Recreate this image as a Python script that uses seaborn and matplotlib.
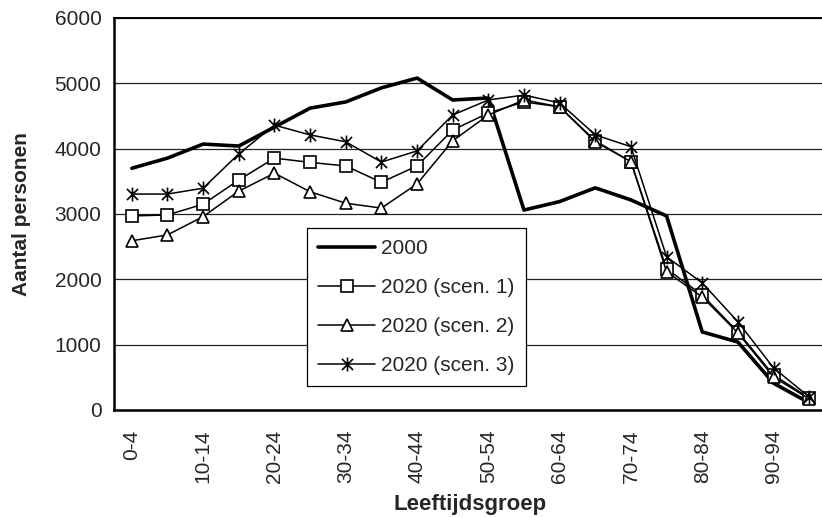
import matplotlib
matplotlib.use("Agg")
import matplotlib.pyplot as plt
from matplotlib.path import Path
from matplotlib.ticker import FixedLocator
import numpy as np
import pandas as pd
import seaborn as sns

# Age groups (5-year bands)
age_groups = ["0-4", "5-9", "10-14", "15-19", "20-24", "25-29", "30-34", "35-39",
              "40-44", "45-49", "50-54", "55-59", "60-64", "65-69", "70-74",
              "75-79", "80-84", "85-89", "90-94", "95-99"]

pop_2000 = [3700, 3855, 4070, 4040, 4330, 4620, 4715, 4930, 5080, 4745,
            4775, 3060, 3190, 3400, 3215, 2970, 1195, 1040, 410, 110]
pop_2020_s1 = [2970, 2985, 3150, 3520, 3855, 3790, 3735, 3485, 3735, 4285,
               4545, 4715, 4640, 4120, 3800, 2160, 1760, 1195, 535, 185]
pop_2020_s2 = [2590, 2680, 2960, 3350, 3625, 3340, 3165, 3090, 3460, 4120,
               4515, 4745, 4640, 4105, 3800, 2115, 1730, 1180, 505, 170]
pop_2020_s3 = [3305, 3305, 3395, 3920, 4360, 4210, 4105, 3795, 3965, 4515,
               4745, 4820, 4700, 4210, 4030, 2345, 1945, 1350, 645, 200]

series_names = ["2000", "2020 (scen. 1)", "2020 (scen. 2)", "2020 (scen. 3)"]
y_ticks = [0, 1000, 2000, 3000, 4000, 5000, 6000]

sns.set_style("white")
plt.rcParams["font.family"] = ["Liberation Sans", "DejaVu Sans"]

# asterisk marker: vertical bar plus an X
asterisk = Path(
    [(0, -1), (0, 1), (-0.8, -0.8), (0.8, 0.8), (-0.8, 0.8), (0.8, -0.8)],
    [Path.MOVETO, Path.LINETO, Path.MOVETO, Path.LINETO, Path.MOVETO, Path.LINETO],
)

fig = plt.figure(figsize=(8.22, 5.18), dpi=100)
ax = fig.add_axes([0.1387, 0.2085, 0.8674, 0.7568])

styles = [
    dict(lw=2.6, marker=None),
    dict(lw=1.1, marker="s", ms=9),
    dict(lw=1.1, marker="^", ms=9),
    dict(lw=1.1, marker=asterisk, ms=10),
]
all_values = [pop_2000, pop_2020_s1, pop_2020_s2, pop_2020_s3]

for name, vals, st in zip(series_names, all_values, styles):
    df = pd.DataFrame({"group": age_groups, "value": vals})
    kw = dict(color="black", lw=st["lw"], label=name, zorder=3)
    if st["marker"] is not None:
        kw.update(marker=st["marker"], markersize=st["ms"],
                  markerfacecolor="white", markeredgecolor="black",
                  markeredgewidth=1.2)
    sns.lineplot(data=df, x="group", y="value", ax=ax, sort=False, **kw)

ax.set_xlim(-0.5, len(age_groups) - 0.5)
ax.set_ylim(0, 6000)
ax.set_yticks(y_ticks)
ax.set_yticklabels([str(v) for v in y_ticks], fontsize=15)

# labels on every other group, tick marks between groups
label_pos = list(range(0, len(age_groups), 2))
ax.set_xticks(label_pos)
ax.set_xticklabels([age_groups[i] for i in label_pos], rotation=90, fontsize=15)
ax.xaxis.set_minor_locator(FixedLocator(np.arange(-0.5, len(age_groups), 1.0)))
ax.tick_params(axis="x", which="major", length=0, pad=14)
ax.tick_params(axis="x", which="minor", length=4, width=1.2, color="black", direction="out")
ax.tick_params(axis="y", which="major", length=5, width=1.2, color="black",
               direction="out", pad=4)

ax.yaxis.grid(True, color="#222222", lw=0.9)
ax.set_axisbelow(True)
for side in ["left", "bottom"]:
    ax.spines[side].set_linewidth(1.8)
    ax.spines[side].set_color("black")
ax.spines["top"].set_linewidth(1.4)
ax.spines["top"].set_color("black")
ax.spines["right"].set_linewidth(1.4)
ax.spines["right"].set_color("black")

ax.set_xlabel("Leeftijdsgroep", fontsize=16, fontweight="bold", labelpad=8)
ax.set_ylabel("Aantal personen", fontsize=15, fontweight="bold", labelpad=17)

leg = ax.legend(loc="upper left", bbox_to_anchor=(307 / 822, 1 - 228 / 518),
                bbox_transform=fig.transFigure, fontsize=15, frameon=True,
                fancybox=False, edgecolor="black", framealpha=1,
                handlelength=2.7, handletextpad=0.3, labelspacing=0.95,
                borderpad=0.55, borderaxespad=0)
leg.get_frame().set_linewidth(0.9)

fig.savefig("out.png", dpi=100)
